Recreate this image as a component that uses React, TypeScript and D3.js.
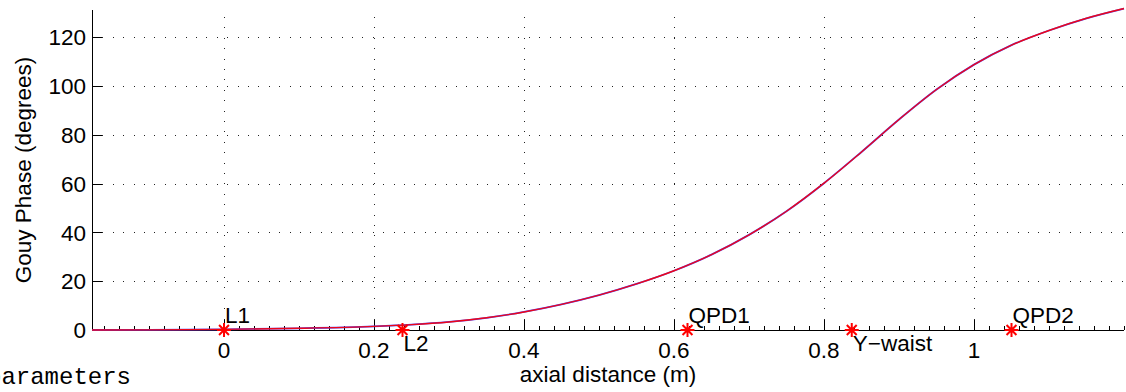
import React, { useEffect, useRef } from 'react'
import * as d3 from 'd3'

// Gouy phase along the beam path
const axialDistance = [-0.176, -0.1, 0, 0.1, 0.2, 0.25, 0.3, 0.35, 0.4, 0.45, 0.5, 0.55, 0.6, 0.65, 0.7, 0.75, 0.8, 0.85, 0.9, 0.95, 1.0, 1.05, 1.1, 1.15, 1.2]
const gouyPhase = [0, 0.05, 0.25, 0.7, 1.5, 2.2, 3.3, 5.0, 7.4, 10.5, 14.3, 18.9, 24.3, 30.9, 39.0, 48.7, 60.2, 73.0, 86.3, 98.6, 108.8, 116.8, 122.8, 127.8, 131.8]

// optics along the path
const opticNames = ['L1', 'L2', 'QPD1', 'Y\u2212waist', 'QPD2']
const opticPositions = [0, 0.238, 0.618, 0.837, 1.05]
const labelBelow = [false, true, false, true, false]

const xTicks = [0, 0.2, 0.4, 0.6, 0.8, 1]
const yTicks = [0, 20, 40, 60, 80, 100, 120]

const FONT = '"Liberation Sans", Arial, Helvetica, sans-serif'
const FS = '22.5px'

const App = () => {
  const svgRef = useRef<SVGSVGElement>(null)
  const width = 1126
  const height = 392

  useEffect(() => {
    if (!svgRef.current) return
    const svg = d3.select(svgRef.current)
    svg.selectAll('*').remove()

    const left = 92
    const right = 1124
    const top = 10
    const bottom = 330

    const x = d3.scaleLinear().domain([-0.176, 1.2]).range([left, right])
    const y = d3.scaleLinear().domain([0, 131.2]).range([bottom, top])

    const data = axialDistance.map((d, i) => ({ x: d, y: gouyPhase[i] }))

    // dotted grid
    const grid = svg.append('g').attr('shape-rendering', 'crispEdges')
    yTicks.filter(t => t > 0).forEach(t => {
      grid.append('line')
        .attr('x1', left).attr('x2', right)
        .attr('y1', Math.round(y(t)) + 0.5).attr('y2', Math.round(y(t)) + 0.5)
        .style('stroke', '#222').style('stroke-dasharray', '1 9.4')
    })
    xTicks.forEach(t => {
      grid.append('line')
        .attr('x1', Math.round(x(t)) + 0.5).attr('x2', Math.round(x(t)) + 0.5)
        .attr('y1', bottom).attr('y2', top + 6)
        .style('stroke', '#222').style('stroke-dasharray', '1 9.4')
    })

    // axes lines
    const axes = svg.append('g').attr('shape-rendering', 'crispEdges')
    axes.append('line')
      .attr('x1', left + 0.5).attr('x2', left + 0.5)
      .attr('y1', top).attr('y2', bottom + 0.5)
      .style('stroke', '#000')
    axes.append('line')
      .attr('x1', left).attr('x2', right)
      .attr('y1', bottom + 0.5).attr('y2', bottom + 0.5)
      .style('stroke', '#000')

    // x ticks (major + minor)
    const minor = d3.range(-8, 61).map(i => i * 0.02)
    minor.forEach(t => {
      const isMajor = xTicks.some(m => Math.abs(m - t) < 1e-6)
      axes.append('line')
        .attr('x1', Math.round(x(t)) + 0.5).attr('x2', Math.round(x(t)) + 0.5)
        .attr('y1', bottom).attr('y2', bottom - (isMajor ? 10 : 4))
        .style('stroke', '#000')
    })
    yTicks.forEach(t => {
      axes.append('line')
        .attr('x1', left).attr('x2', left + 10)
        .attr('y1', Math.round(y(t)) + 0.5).attr('y2', Math.round(y(t)) + 0.5)
        .style('stroke', '#000')
    })

    // tick labels
    svg.append('g').selectAll('text')
      .data(xTicks).enter().append('text')
      .attr('x', d => x(d)).attr('y', 358)
      .attr('text-anchor', 'middle')
      .style('font-family', FONT).style('font-size', FS).style('fill', '#000')
      .text(d => d3.format('~g')(d))
    svg.append('g').selectAll('text')
      .data(yTicks).enter().append('text')
      .attr('x', 86).attr('y', d => y(d)).attr('dy', '0.36em')
      .attr('text-anchor', 'end')
      .style('font-family', FONT).style('font-size', FS).style('fill', '#000')
      .text(d => d)

    // axis titles
    svg.append('text')
      .attr('x', (left + right) / 2).attr('y', 382)
      .attr('text-anchor', 'middle')
      .style('font-family', FONT).style('font-size', FS).style('fill', '#000')
      .text('axial distance (m)')
    svg.append('text')
      .attr('transform', `translate(31, ${(top + bottom) / 2}) rotate(-90)`)
      .attr('text-anchor', 'middle')
      .style('font-family', FONT).style('font-size', FS).style('fill', '#000')
      .text('Gouy Phase (degrees)')

    // curves: x and y beams lie on top of each other
    const line = d3.line<{ x: number; y: number }>()
      .x(d => x(d.x)).y(d => y(d.y))
      .curve(d3.curveMonotoneX)
    svg.append('path').datum(data).attr('d', line)
      .style('fill', 'none').style('stroke', '#4040ff').style('stroke-width', 1.8)
    svg.append('path').datum(data).attr('d', line)
      .style('fill', 'none').style('stroke', '#ff0000').style('stroke-width', 1.4)
      .style('opacity', 0.9)

    // optic markers: matlab-style '*' (plus and cross)
    const r = 7
    const d = r * Math.SQRT1_2
    const starPath = `M${-r},0L${r},0M0,${-r}L0,${r}M${-d},${-d}L${d},${d}M${-d},${d}L${d},${-d}`
    opticPositions.forEach((p, i) => {
      svg.append('path')
        .attr('d', starPath)
        .attr('transform', `translate(${x(p)}, ${y(0)})`)
        .style('fill', 'none').style('stroke', '#ff0000').style('stroke-width', 2)
      svg.append('text')
        .attr('x', x(p) + 1).attr('y', labelBelow[i] ? 351 : 323)
        .style('font-family', FONT).style('font-size', FS).style('fill', '#000')
        .text(opticNames[i])
    })

    // leftover text from the script, cut at the left edge
    svg.append('text')
      .attr('x', -13).attr('y', 384)
      .style('font-family', '"Liberation Mono", "Courier New", monospace')
      .style('font-size', '24px').style('fill', '#000')
      .text('parameters')
  }, [])

  return (
    <svg
      ref={svgRef}
      width={width}
      height={height}
      style={{ position: 'absolute', left: 0, top: 0, background: '#fff' }}
    />
  )
}

export default App
